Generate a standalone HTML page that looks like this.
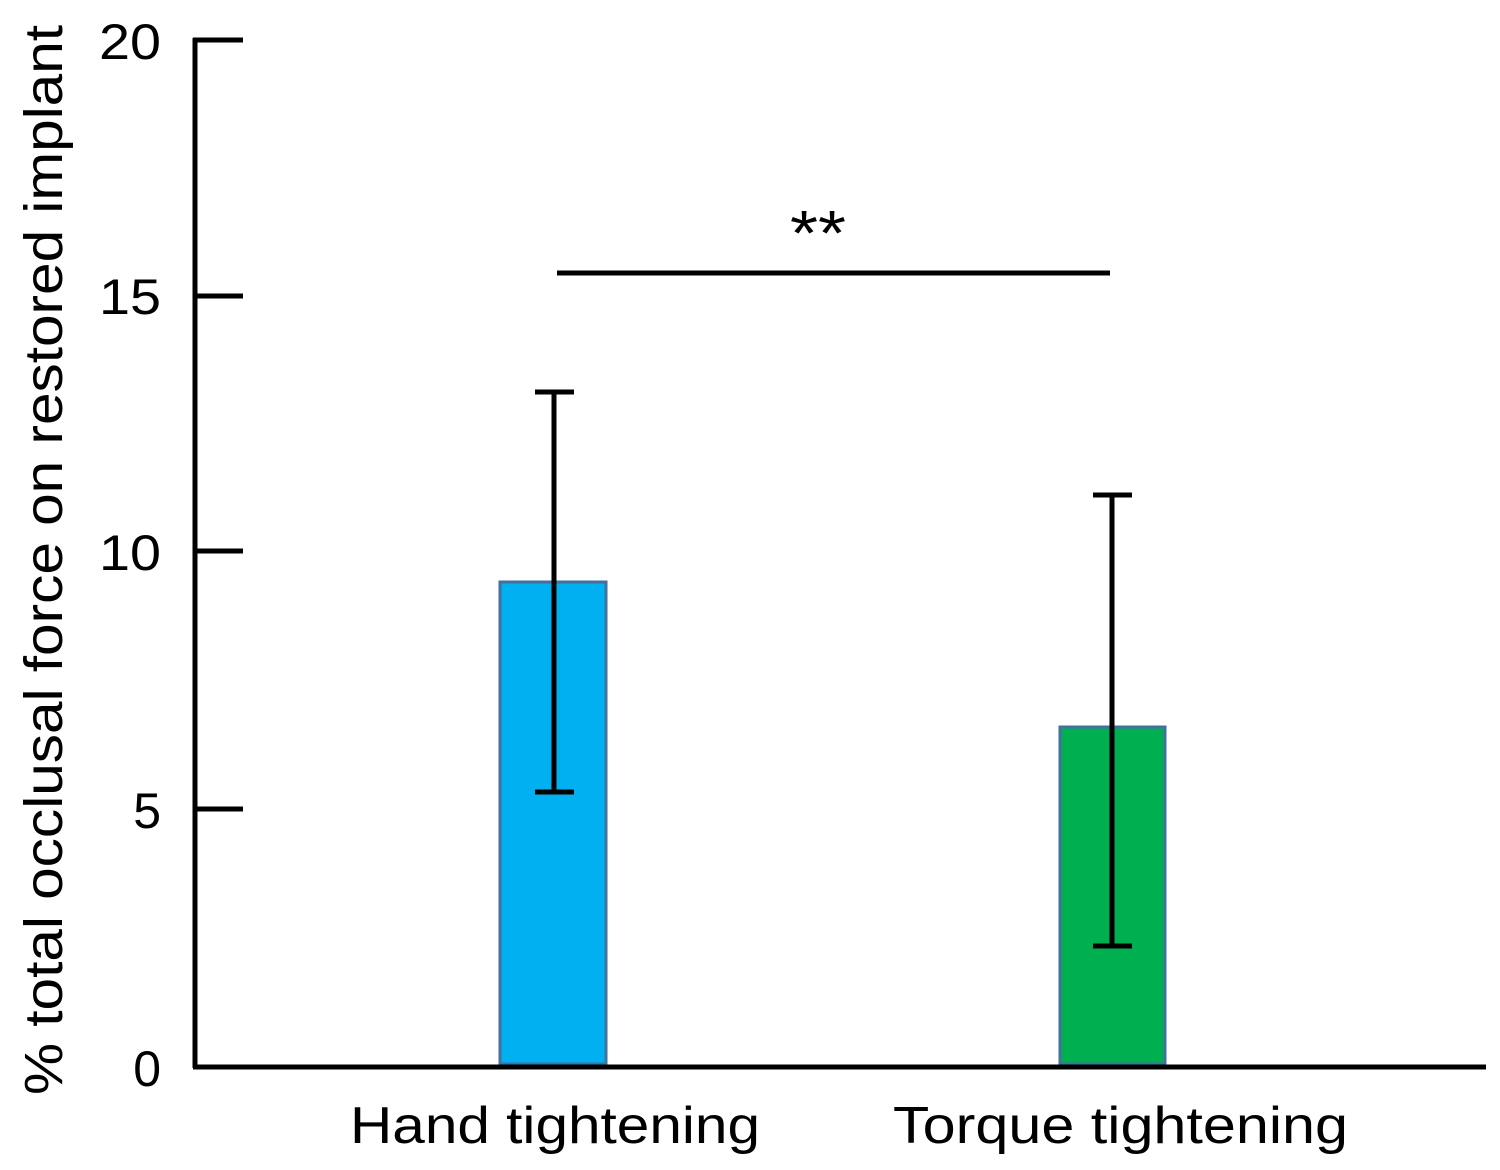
<!DOCTYPE html>
<html><head><meta charset="utf-8"><style>
html,body{margin:0;padding:0;background:#fff;}
svg{display:block;}
text{font-family:"Liberation Sans",sans-serif;fill:#000;}
</style></head><body>
<svg width="1500" height="1170" viewBox="0 0 1500 1170" xmlns="http://www.w3.org/2000/svg">
<rect width="1500" height="1170" fill="#fff"/>
<rect x="500" y="582" width="106" height="482" fill="#00b0f0" stroke="#41719c" stroke-width="3"/>
<rect x="1060" y="727" width="105" height="337" fill="#00b050" stroke="#41719c" stroke-width="3"/>
<line x1="195" y1="38" x2="195" y2="1068" stroke="#000" stroke-width="5"/>
<line x1="193" y1="1067" x2="1486" y2="1067" stroke="#000" stroke-width="5"/>
<g stroke="#000" stroke-width="5">
<line x1="193" y1="40" x2="243" y2="40"/>
<line x1="193" y1="296" x2="243" y2="296"/>
<line x1="193" y1="551" x2="243" y2="551"/>
<line x1="193" y1="809" x2="243" y2="809"/>
</g>
<g font-size="50" text-anchor="end">
<text x="161" y="59" textLength="62" lengthAdjust="spacingAndGlyphs">20</text>
<text x="161" y="314" textLength="62" lengthAdjust="spacingAndGlyphs">15</text>
<text x="161" y="570" textLength="62" lengthAdjust="spacingAndGlyphs">10</text>
<text x="161" y="828">5</text>
<text x="161" y="1086">0</text>
</g>
<g stroke="#000" stroke-width="5">
<line x1="554" y1="392" x2="554" y2="792"/>
<line x1="535" y1="392" x2="574" y2="392"/>
<line x1="535" y1="792" x2="574" y2="792"/>
<line x1="1112" y1="495" x2="1112" y2="946"/>
<line x1="1093" y1="495" x2="1132" y2="495"/>
<line x1="1093" y1="946" x2="1132" y2="946"/>
<line x1="557" y1="273" x2="1110" y2="273"/>
</g>
<text x="790" y="255" font-size="64" textLength="56" lengthAdjust="spacingAndGlyphs">**</text>
<g font-size="52">
<text x="350" y="1143" textLength="410" lengthAdjust="spacingAndGlyphs">Hand tightening</text>
<text x="893" y="1143" textLength="455" lengthAdjust="spacingAndGlyphs">Torque tightening</text>
</g>
<text transform="translate(62,1095) rotate(-90)" font-size="54" textLength="1070" lengthAdjust="spacingAndGlyphs">% total occlusal force on restored implant</text>
</svg>
</body></html>
